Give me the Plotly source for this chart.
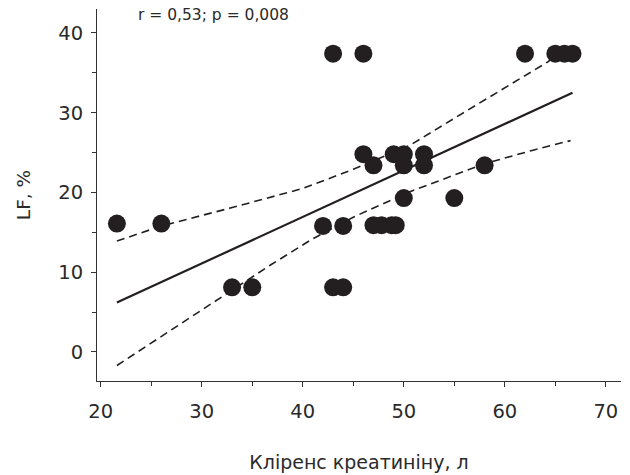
import plotly.graph_objects as go

# Creatinine clearance vs LF (%)
clearance = [21.6, 26, 33, 35, 42, 44, 43, 44, 43, 46, 62, 65, 65.9, 66.7,
             46, 47, 49, 50, 52, 50, 52, 47, 47.8, 48.8, 49.2, 50, 55, 58]
lf = [16.1, 16.1, 8.1, 8.1, 15.8, 15.8, 8.1, 8.1, 37.4, 37.4, 37.4, 37.4, 37.4, 37.4,
      24.8, 23.4, 24.8, 24.8, 24.8, 23.4, 23.4, 15.9, 15.9, 15.9, 15.9, 19.3, 19.3, 23.4]

# Regression line and 95% confidence band
fit_x = [21.6, 66.7]
fit_y = [6.2, 32.5]
upper_x = [21.6, 26, 33, 40, 45, 50.6, 55, 60, 64.3, 65]
upper_y = [13.9, 15.8, 18.1, 20.5, 22.9, 25.9, 29.3, 33.1, 36.4, 37.2]
lower_x = [21.6, 28, 36.8, 41, 45, 50.6, 55, 58, 62.8, 66.5]
lower_y = [-1.7, 3.6, 10.9, 14.2, 16.9, 20.1, 22.2, 23.6, 25.3, 26.5]

ink = "#231f20"
text_color = "#2a2a2a"
font_family = "'DejaVu Sans', sans-serif"

fig = go.Figure()
fig.add_trace(go.Scatter(x=upper_x, y=upper_y, mode="lines",
                         line=dict(color=ink, width=1.6, dash="8px,5px")))
fig.add_trace(go.Scatter(x=lower_x, y=lower_y, mode="lines",
                         line=dict(color=ink, width=1.6, dash="8px,5px")))
fig.add_trace(go.Scatter(x=fit_x, y=fit_y, mode="lines",
                         line=dict(color=ink, width=2.2)))
fig.add_trace(go.Scatter(x=clearance, y=lf, mode="markers",
                         marker=dict(color=ink, size=18, line=dict(width=0))))

axis_common = dict(
    showline=True, linecolor="#333333", linewidth=1,
    ticks="outside", ticklen=5, tickwidth=1, tickcolor="#333333",
    showgrid=False, zeroline=False, automargin=False,
    tickfont=dict(family=font_family, size=19.5, color=text_color),
    minor=dict(ticks="outside", ticklen=4, tickwidth=1, tickcolor="#333333",
               dtick=5, showgrid=False),
)

fig.update_layout(
    width=630, height=475,
    margin=dict(l=97, r=9, t=9, b=94),
    paper_bgcolor="white", plot_bgcolor="white",
    showlegend=False,
    xaxis=dict(range=[19.63, 71.5], tickvals=[20, 30, 40, 50, 60, 70],
               ticklabelstandoff=8,
               title=dict(text="Кліренс креатиніну, л", standoff=33,
                          font=dict(family=font_family, size=19, color=text_color)),
               **axis_common),
    yaxis=dict(range=[-3.64, 43.0], tickvals=[0, 10, 20, 30, 40],
               ticklabelstandoff=4,
               title=dict(text="LF, %", standoff=22,
                          font=dict(family=font_family, size=18.5, color=text_color)),
               **axis_common),
    annotations=[dict(x=0.075, y=0.984, xref="paper", yref="paper",
                      xanchor="left", yanchor="middle",
                      text="r = 0,53; p = 0,008", showarrow=False,
                      font=dict(family=font_family, size=15.5, color=text_color))],
)

fig.write_html("out.html")
